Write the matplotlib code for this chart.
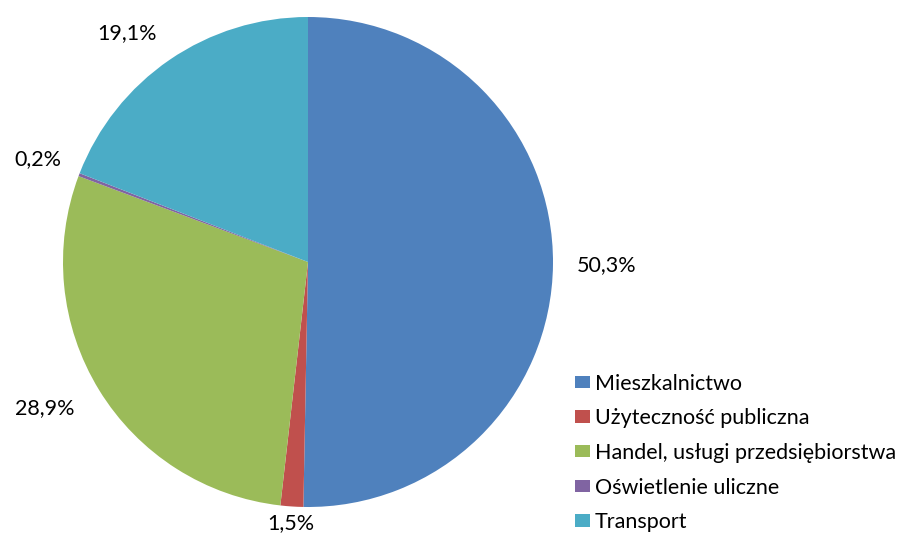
import matplotlib
matplotlib.use("Agg")
import matplotlib.pyplot as plt
import numpy as np

categories = ["Mieszkalnictwo", "Użyteczność publiczna", "Handel, usługi przedsiębiorstwa",
              "Oświetlenie uliczne", "Transport"]
values = [50.3, 1.5, 28.9, 0.2, 19.1]
labels = ["50,3%", "1,5%", "28,9%", "0,2%", "19,1%"]
colors = ["#4F81BD", "#C0504D", "#9BBB59", "#8064A2", "#4BACC6"]
label_dist = [1.22, 1.07, 1.23, 1.18, 1.19]
label_angle_shift = [0, 0, -2.5, 0, 4]

plt.rcParams['font.family'] = ['Lato', 'DejaVu Sans']
FS = 15.5

W, H = 907, 545
fig = plt.figure(figsize=(W/100, H/100), dpi=100)
cx, cy, r = 308, 262, 245
ax = fig.add_axes([(cx - r)/W, (H - cy - r)/H, 2*r/W, 2*r/H])
wedges, _ = ax.pie(values, colors=colors, startangle=90, counterclock=False,
                   radius=1.0, wedgeprops=dict(linewidth=0))
ax.set_xlim(-1, 1)
ax.set_ylim(-1, 1)
ax.set_aspect('equal')
for w, lab, d, s in zip(wedges, labels, label_dist, label_angle_shift):
    ang = np.deg2rad((w.theta1 + w.theta2) / 2 + s)
    ax.text(d*np.cos(ang), d*np.sin(ang), lab, ha='center', va='center',
            fontsize=FS, color='black', clip_on=False)

leg = fig.legend(wedges, categories, loc='upper left',
                 bbox_to_anchor=(566/W, 1 - 365/H), frameon=False,
                 fontsize=FS, handlelength=0.7, handleheight=0.5,
                 handletextpad=0.25, labelspacing=0.68, borderaxespad=0)
fig.savefig("out.png", dpi=100)
